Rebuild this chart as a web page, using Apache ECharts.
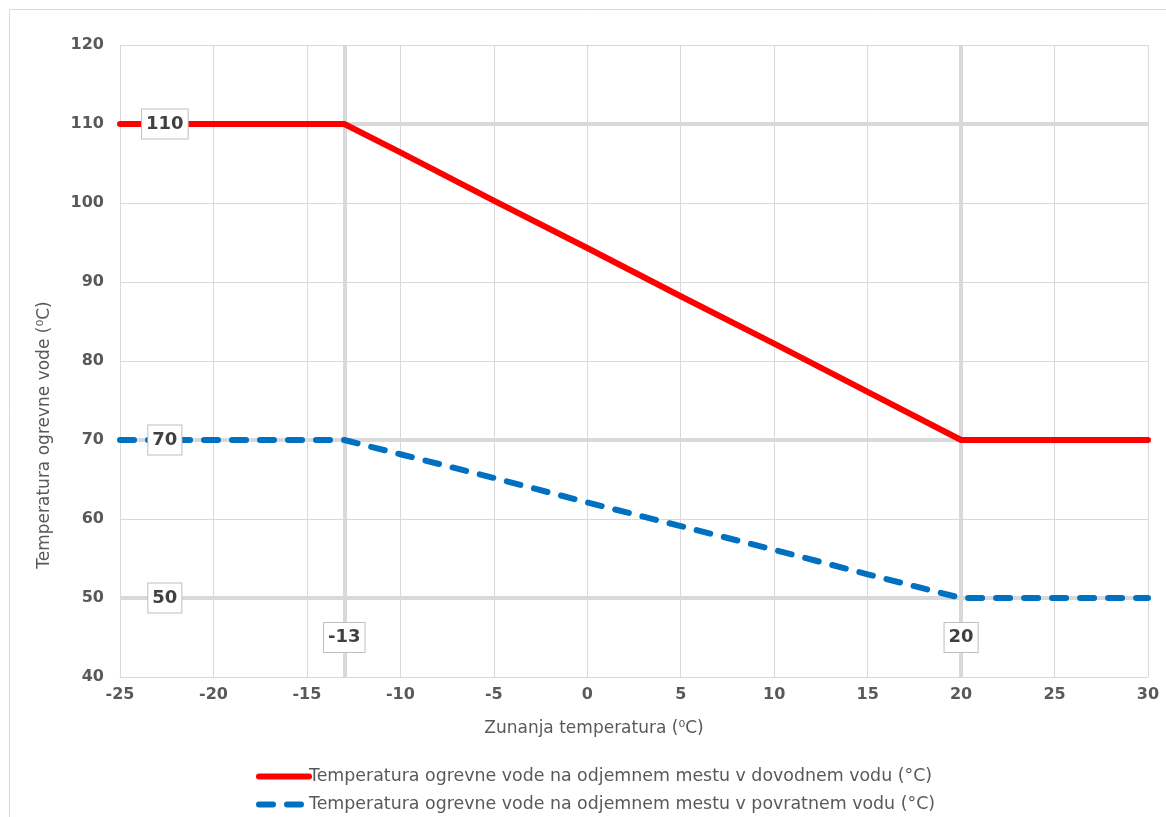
<!DOCTYPE html>
<html>
<head>
<meta charset="utf-8">
<script src="https://cdn.jsdelivr.net/npm/echarts@6/dist/echarts.min.js"></script>
<style>html,body{margin:0;padding:0;background:#fff}#c{width:1166px;height:817px}</style>
</head>
<body>
<div id="c"></div>
<script>
// Data
const outsideTemp = [-25, -20, -15, -13, -10, -5, 0, 5, 10, 15, 20, 25, 30];
const supplyTemp  = [110, 110, 110, 110, 106.4, 100.3, 94.3, 88.2, 82.2, 76.1, 70, 70, 70];
const returnTemp  = [70, 70, 70, 70, 68.2, 65.2, 62.1, 59.1, 56.1, 53.0, 50, 50, 50];
const supplyName = 'Temperatura ogrevne vode na odjemnem mestu v dovodnem vodu (°C)';
const returnName = 'Temperatura ogrevne vode na odjemnem mestu v povratnem vodu (°C)';
const refY = [110, 70, 50];
const refX = [-13, 20];
const labelsY = [[-22.6, 110, '110'], [-22.6, 70, '70'], [-22.6, 50, '50']];
const labelsX = [[-13, 45, '-13'], [20, 45, '20']];

const font = '"DejaVu Sans", sans-serif';
const chart = echarts.init(document.getElementById('c'));
const pair = (xs, ys) => xs.map((x, i) => [x, ys[i]]);
const legendCommon = {
  orient: 'horizontal', left: 251, itemWidth: 50, itemHeight: 8, itemGap: 10,
  textStyle: {fontFamily: font, fontSize: 17.4, color: '#595959', padding: [0, 0, 0, -5]},
  itemStyle: {opacity: 0},
  lineStyle: {width: 6, cap: 'round'}
};

chart.setOption({
  animation: false,
  backgroundColor: '#fff',
  graphic: [{
    type: 'rect', shape: {x: 9.5, y: 9.5, width: 1170, height: 830},
    style: {fill: 'none', stroke: '#d9d9d9', lineWidth: 1}, silent: true
  }],
  grid: {left: 120, right: 18, top: 45, bottom: 140, containLabel: false},
  xAxis: {
    type: 'value', min: -25, max: 30, interval: 5,
    name: 'Zunanja temperatura (⁰C)', nameLocation: 'middle', nameGap: 43,
    nameTextStyle: {fontFamily: font, fontSize: 17, color: '#595959', padding: [0, 80, 0, 0]},
    axisLine: {show: true, lineStyle: {color: '#d9d9d9', width: 1}},
    axisTick: {show: false},
    axisLabel: {fontFamily: font, fontSize: 16, fontWeight: 'bold', color: '#595959', margin: 10},
    splitLine: {show: true, lineStyle: {color: '#d9d9d9', width: 1}}
  },
  yAxis: {
    type: 'value', min: 40, max: 120, interval: 10,
    name: 'Temperatura ogrevne vode (⁰C)', nameLocation: 'middle', nameGap: 67,
    nameTextStyle: {fontFamily: font, fontSize: 17, color: '#595959', padding: [0, 148, 0, 0]},
    axisLine: {show: true, lineStyle: {color: '#d9d9d9', width: 1}},
    axisTick: {show: false},
    axisLabel: {fontFamily: font, fontSize: 16, fontWeight: 'bold', color: '#595959', margin: 16},
    splitLine: {show: true, lineStyle: {color: '#d9d9d9', width: 1}}
  },
  legend: [
    Object.assign({top: 763, data: [supplyName]}, legendCommon),
    Object.assign({top: 791, data: [returnName]}, legendCommon)
  ],
  series: [
    {
      type: 'line', data: [], z: 1, silent: true,
      markLine: {
        silent: true, symbol: 'none', label: {show: false}, z: 1,
        lineStyle: {color: '#d9d9d9', width: 4, type: 'solid'},
        emphasis: {disabled: true},
        data: refY.map(v => ({yAxis: v})).concat(refX.map(v => ({xAxis: v})))
      }
    },
    {
      name: supplyName, type: 'line', data: pair(outsideTemp, supplyTemp), z: 3,
      symbol: 'none', lineStyle: {color: '#ff0000', width: 6, cap: 'round', join: 'round'},
      itemStyle: {color: '#ff0000'}
    },
    {
      name: returnName, type: 'line', data: pair(outsideTemp, returnTemp), z: 3,
      symbol: 'none', lineStyle: {color: '#0070c0', width: 6, type: [14, 14], cap: 'round', join: 'round'},
      itemStyle: {color: '#0070c0'}
    },
    {
      type: 'scatter', z: 5, silent: true, symbolSize: 0,
      itemStyle: {opacity: 1},
      data: labelsY.concat(labelsX).map(d => ({value: [d[0], d[1]], name: d[2]})),
      label: {
        show: true, position: 'inside', formatter: p => p.name,
        fontFamily: font, fontSize: 18, fontWeight: 'bold', color: '#404040',
        backgroundColor: '#fff', borderColor: '#bfbfbf', borderWidth: 1, padding: [6, 4, 5, 4]
      }
    }
  ]
});
</script>
</body>
</html>
